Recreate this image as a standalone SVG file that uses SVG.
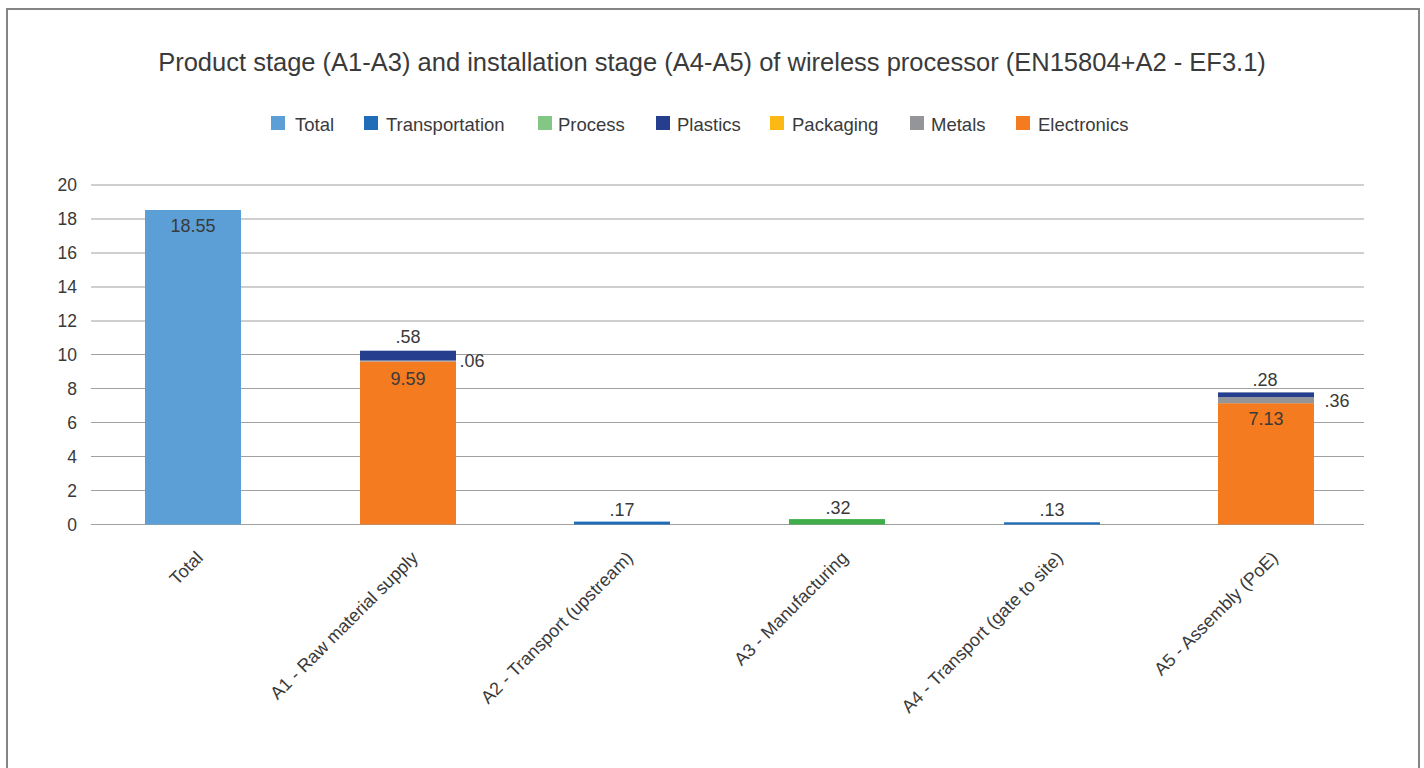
<svg xmlns="http://www.w3.org/2000/svg" width="1424" height="768" viewBox="0 0 1424 768">
  <style>
    text { font-family: "Liberation Sans", Arial, sans-serif; fill: #3a3a3a; }
    .title { font-size: 25.5px; text-anchor: middle; }
    .legend { font-size: 18.5px; }
    .tick { font-size: 17.5px; text-anchor: end; }
    .val { font-size: 18px; text-anchor: middle; }
    .cat { font-size: 18px; text-anchor: end; }
    .grid { stroke: #a0a0a0; stroke-width: 1.2; }
    .frame { fill: none; stroke: #858585; stroke-width: 2; }
    .total { fill: #5b9fd6; }
    .transport { fill: #1f6db8; }
    .process { fill: #82c785; }
    .process-bar { fill: #3fae4a; }
    .plastics { fill: #253f8e; }
    .packaging { fill: #fdb913; }
    .metals { fill: #939598; }
    .electronics { fill: #f47b20; }
  </style>

  <rect width="1424" height="768" fill="#ffffff"/>
  <path class="frame" d="M7 780 V9 H1419 V780"/>

  <text class="title" x="712" y="71">Product stage (A1-A3) and installation stage (A4-A5) of wireless processor (EN15804+A2 - EF3.1)</text>

  <!-- legend -->
  <g id="legend">
    <rect class="total" x="271" y="116" width="14" height="14"/>
    <text class="legend" x="295" y="131">Total</text>
    <rect class="transport" x="364" y="116" width="14" height="14"/>
    <text class="legend" x="386" y="131">Transportation</text>
    <rect class="process" x="538" y="116" width="14" height="14"/>
    <text class="legend" x="558" y="131">Process</text>
    <rect class="plastics" x="656" y="116" width="14" height="14"/>
    <text class="legend" x="677" y="131">Plastics</text>
    <rect class="packaging" x="770" y="116" width="14" height="14"/>
    <text class="legend" x="792" y="131">Packaging</text>
    <rect class="metals" x="910" y="116" width="14" height="14"/>
    <text class="legend" x="931" y="131">Metals</text>
    <rect class="electronics" x="1016" y="116" width="14" height="14"/>
    <text class="legend" x="1038" y="131">Electronics</text>
  </g>

  <!-- value axis: 16.95 px per unit, zero at y=524 -->
  <g id="grid">
    <line class="grid" x1="91" y1="185" x2="1364" y2="185"/>
    <line class="grid" x1="91" y1="219" x2="1364" y2="219"/>
    <line class="grid" x1="91" y1="253" x2="1364" y2="253"/>
    <line class="grid" x1="91" y1="287" x2="1364" y2="287"/>
    <line class="grid" x1="91" y1="321" x2="1364" y2="321"/>
    <line class="grid" x1="91" y1="354.5" x2="1364" y2="354.5"/>
    <line class="grid" x1="91" y1="388.5" x2="1364" y2="388.5"/>
    <line class="grid" x1="91" y1="422.5" x2="1364" y2="422.5"/>
    <line class="grid" x1="91" y1="456.5" x2="1364" y2="456.5"/>
    <line class="grid" x1="91" y1="490.5" x2="1364" y2="490.5"/>
    <line class="grid" x1="91" y1="524.5" x2="1364" y2="524.5"/>
  </g>
  <g id="y-ticks">
    <text class="tick" x="77" y="191">20</text>
    <text class="tick" x="77" y="225">18</text>
    <text class="tick" x="77" y="259">16</text>
    <text class="tick" x="77" y="293">14</text>
    <text class="tick" x="77" y="327">12</text>
    <text class="tick" x="77" y="361">10</text>
    <text class="tick" x="77" y="395">8</text>
    <text class="tick" x="77" y="429">6</text>
    <text class="tick" x="77" y="463">4</text>
    <text class="tick" x="77" y="497">2</text>
    <text class="tick" x="77" y="531">0</text>
  </g>

  <!-- bars -->
  <g id="bar-total">
    <rect class="total" x="145" y="210" width="96" height="314.5"/>
    <text class="val" x="193" y="232">18.55</text>
  </g>
  <g id="bar-a1">
    <rect class="electronics" x="360" y="361.5" width="96" height="163"/>
    <rect class="metals" x="360" y="360.5" width="96" height="1"/>
    <rect class="plastics" x="360" y="350.7" width="96" height="9.8"/>
    <text class="val" x="408" y="385">9.59</text>
    <text class="val" x="408" y="343">.58</text>
    <text class="val" x="472" y="367">.06</text>
  </g>
  <g id="bar-a2">
    <rect class="transport" x="574" y="521.6" width="96" height="2.9"/>
    <text class="val" x="622" y="516">.17</text>
  </g>
  <g id="bar-a3">
    <rect class="process-bar" x="789" y="519.1" width="96" height="5.4"/>
    <text class="val" x="838" y="514">.32</text>
  </g>
  <g id="bar-a4">
    <rect class="transport" x="1004" y="522.3" width="96" height="2.2"/>
    <text class="val" x="1052" y="516">.13</text>
  </g>
  <g id="bar-a5">
    <rect class="electronics" x="1218" y="403.2" width="96" height="121.3"/>
    <rect class="metals" x="1218" y="397.1" width="96" height="6.1"/>
    <rect class="plastics" x="1218" y="392.4" width="96" height="4.7"/>
    <text class="val" x="1266" y="425">7.13</text>
    <text class="val" x="1265" y="386">.28</text>
    <text class="val" x="1337" y="407">.36</text>
  </g>

  <!-- category labels -->
  <g id="categories">
    <text class="cat" transform="translate(204 559) rotate(-45)">Total</text>
    <text class="cat" transform="translate(419 559) rotate(-45)">A1 - Raw material supply</text>
    <text class="cat" transform="translate(634 559) rotate(-45)">A2 - Transport (upstream)</text>
    <text class="cat" transform="translate(849 559) rotate(-45)">A3 - Manufacturing</text>
    <text class="cat" transform="translate(1064 559) rotate(-45)">A4 - Transport (gate to site)</text>
    <text class="cat" transform="translate(1279 559) rotate(-45)">A5 - Assembly (PoE)</text>
  </g>
</svg>
